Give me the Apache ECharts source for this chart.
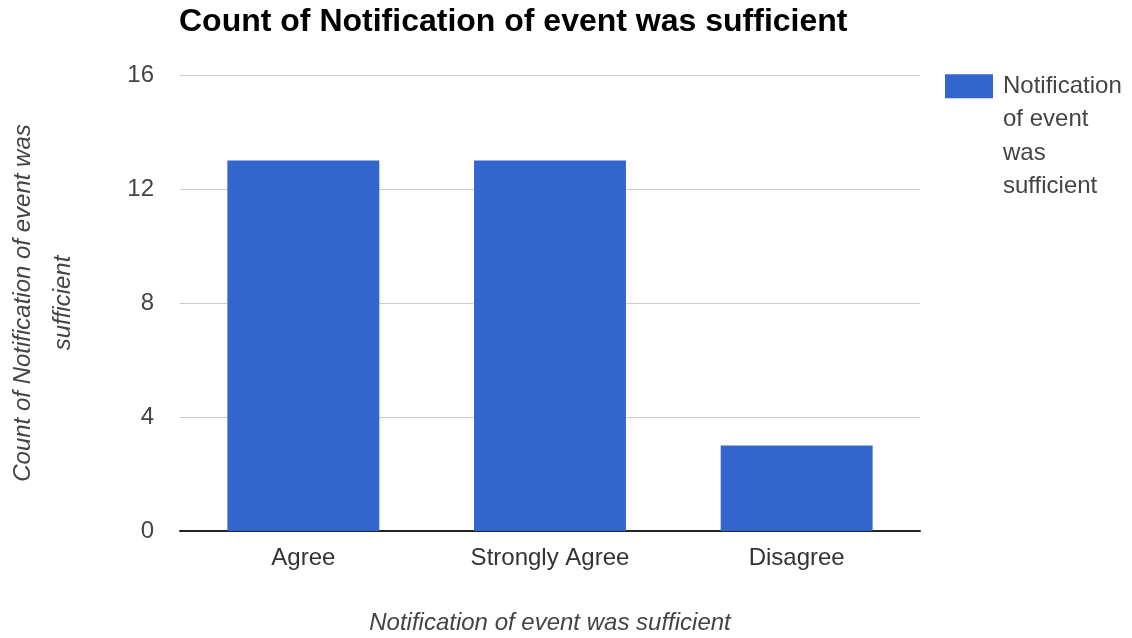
<!DOCTYPE html>
<html>
<head>
<meta charset="utf-8">
<script src="https://cdn.jsdelivr.net/npm/echarts@6/dist/echarts.min.js"></script>
<style>
  html, body { margin: 0; padding: 0; background: #fff; overflow: hidden; }
  #chart { width: 1132px; height: 638px; }
</style>
</head>
<body>
<div id="chart"></div>
<script>
// Responses to "Notification of event was sufficient"
const categories = ['Agree', 'Strongly Agree', 'Disagree'];
const counts = [13, 13, 3];
const yTicks = [0, 4, 8, 12, 16];
const seriesName = 'Notification of event was sufficient';

const chart = echarts.init(document.getElementById('chart'), null, { renderer: 'canvas' });

const font = 'Arial, "Liberation Sans", sans-serif';

chart.setOption({
  animation: false,
  backgroundColor: '#ffffff',
  title: {
    text: 'Count of Notification of event was sufficient',
    left: 179,
    top: 6,
    padding: 0,
    textStyle: { fontFamily: font, fontSize: 32, fontWeight: 'bold', color: '#000' }
  },
  legend: {
    left: 945,
    top: -31,
    padding: 0,
    orient: 'vertical',
    itemWidth: 48,
    itemHeight: 24,
    icon: 'rect',
    data: [seriesName],
    // leading blank lines keep the swatch level with the first line of the wrapped label
    formatter: () => '\n\n\nNotification\nof event\nwas\nsufficient',
    textStyle: { fontFamily: font, fontSize: 24, color: '#444', lineHeight: 33.5, padding: [0, 0, 0, 5] }
  },
  grid: {
    left: 180, right: 212, top: 75, bottom: 107,
    containLabel: false,
    outerBoundsMode: 'none'
  },
  xAxis: {
    type: 'category',
    data: categories,
    name: 'Notification of event was sufficient',
    nameLocation: 'middle',
    nameGap: 80,
    nameTextStyle: { fontFamily: font, fontSize: 24, fontStyle: 'italic', color: '#444' },
    axisLine: { show: true, lineStyle: { color: '#222', width: 2 } },
    axisTick: { show: false },
    axisLabel: { fontFamily: font, fontSize: 24, color: '#333', margin: 15 }
  },
  yAxis: {
    type: 'value',
    min: yTicks[0],
    max: yTicks[yTicks.length - 1],
    interval: 4,
    name: 'Count of Notification of event was\nsufficient',
    nameLocation: 'middle',
    nameGap: 97,
    nameRotate: 90,
    nameTextStyle: { fontFamily: font, fontSize: 24, fontStyle: 'italic', color: '#444', lineHeight: 40 },
    axisLine: { show: false },
    axisTick: { show: false },
    axisLabel: { fontFamily: font, fontSize: 24, color: '#444', margin: 26 },
    splitLine: { lineStyle: { color: '#cccccc', width: 1 } }
  },
  series: [{
    name: seriesName,
    type: 'bar',
    data: counts,
    barWidth: '61.6%',
    itemStyle: { color: '#3366cc' }
  }]
});
</script>
</body>
</html>
